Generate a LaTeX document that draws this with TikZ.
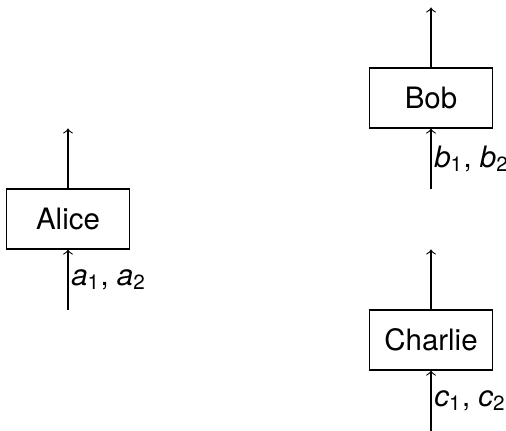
\documentclass[tikz,border=0pt]{standalone}
\usepackage{fontspec}
\setmainfont{TeX Gyre Heros}
\usetikzlibrary{positioning}

\newcommand{\inpair}[1]{\textit{#1}\textsubscript{1}, \textit{#1}\textsubscript{2}}
\tikzset{
	party/.style = {draw, rectangle, minimum width = 44pt, minimum height = 21.6pt, inner sep = 0pt},
	wire/.style = {->, line width = 0.4pt}
}

\begin{document}
\begin{tikzpicture} [x = 0.36pt, y = -0.36pt, font = \fontsize{10.6pt}{12pt}\selectfont]
		\useasboundingbox (0,0) rectangle (506,431);
		\node (alice) [party] at (68,219) {Alice};
		\node (bob) [party] at (431,98) {Bob};
		\node (charlie) [party] at (431,340) {Charlie};
		\coordinate [above = 21.6pt of alice.north] (aliceout);
		\coordinate [below = 21.6pt of alice.south] (alicein);
		\coordinate [above = 21.6pt of bob.north] (bobout);
		\coordinate [below = 21.6pt of bob.south] (bobin);
		\coordinate [above = 21.6pt of charlie.north] (charlieout);
		\coordinate [below = 21.6pt of charlie.south] (charliein);
		\path [wire]
		(alice) edge (aliceout)
		(alicein) edge node [right, inner sep = 1pt] {\inpair{a}} (alice)
		(bob) edge (bobout)
		(bobin) edge node [right, inner sep = 1pt] {\inpair{b}} (bob)
		(charlie) edge (charlieout)
		(charliein) edge node [right, inner sep = 1pt] {\inpair{c}} (charlie)
		;
	\end{tikzpicture}
\end{document}
